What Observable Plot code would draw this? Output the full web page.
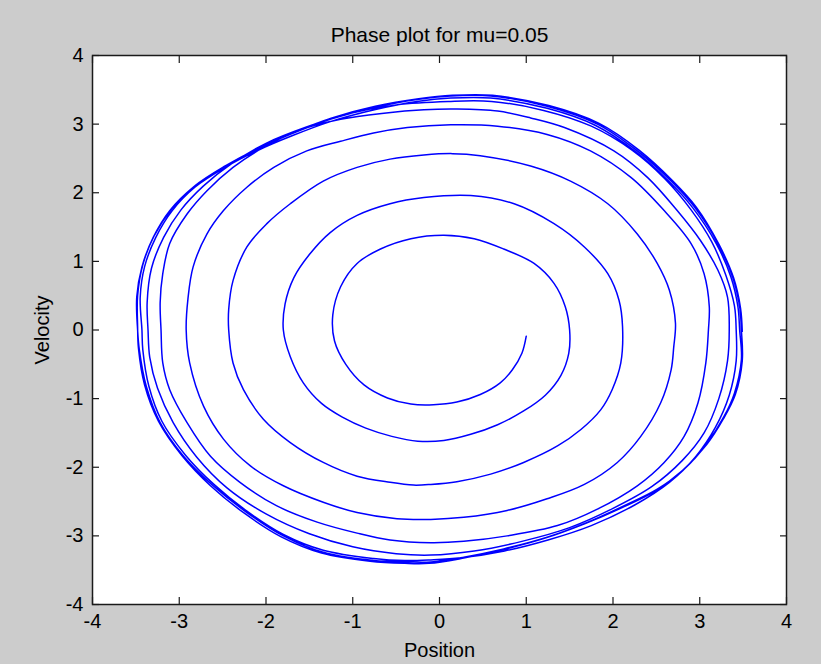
<!DOCTYPE html>
<html>
<head>
<meta charset="utf-8">
<script src="https://cdn.jsdelivr.net/npm/d3@7"></script>
<script src="https://cdn.jsdelivr.net/npm/@observablehq/plot@0.6"></script>
<style>
  html, body { margin: 0; padding: 0; background: #cccccc; }
  #chart svg { display: block; }
</style>
</head>
<body>
<div id="chart"></div>
<script>
// Trajectory of the oscillator in the phase plane, one turn per block,
// starting at (1, -0.1) and winding clockwise out to the limit cycle.
const position = [
  // turn 1
  1.00, 0.95, 0.84, 0.70, 0.47, 0.20, -0.07, -0.33, -0.60, -0.87, -1.08, -1.21,
  -1.23, -1.14, -0.95, -0.68, -0.33, 0.05, 0.40, 0.74, 1.09, 1.32, 1.45, 1.50,
  // turn 2
  1.49, 1.40, 1.22, 0.97, 0.67, 0.36, 0.05, -0.25, -0.55, -0.85, -1.12, -1.36, -1.57, -1.72, -1.80,
  -1.78, -1.68, -1.50, -1.26, -0.95, -0.57, -0.18, 0.36, 0.86, 1.32, 1.67, 1.94, 2.07, 2.11,
  // turn 3
  2.09, 1.99, 1.86, 1.63, 1.36, 0.97, 0.59, 0.20, -0.10,
  -0.30, -0.57, -0.95, -1.34, -1.72, -2.03, -2.26, -2.38, -2.43,
  -2.43, -2.38, -2.22, -1.99, -1.72, -1.34, -0.95, -0.57, -0.18,
  0.15, 0.47, 1.05, 1.51, 1.94, 2.28, 2.51, 2.65, 2.72,
  // turn 4
  2.70, 2.67, 2.55, 2.32, 2.05, 1.67, 1.24, 0.78, 0.28, -0.10,
  -0.49, -0.95, -1.34, -1.80, -2.18, -2.49, -2.72, -2.88, -2.92,
  -2.90, -2.84, -2.68, -2.49, -2.22, -1.91, -1.53, -1.14, -0.76, -0.37,
  0.13, 0.67, 1.24, 1.74, 2.21, 2.59, 2.90, 3.05, 3.11, 3.10,
  // turn 5
  3.07, 2.98, 2.82, 2.59, 2.28, 1.82, 1.36, 0.78, 0.28, -0.10,
  -0.57, -0.95, -1.41, -1.88, -2.30, -2.64, -2.91, -3.11, -3.19, -3.21,
  -3.22, -3.19, -3.11, -2.91, -2.68, -2.38, -2.03, -1.64, -1.14, -0.64, -0.18,
  0.20, 0.67, 1.05, 1.44, 2.01, 2.40, 2.74, 3.01, 3.21, 3.32, 3.34,
  // turn 6
  3.32, 3.22, 3.05, 2.80, 2.45, 2.00, 1.50, 0.95, 0.40, -0.10,
  -0.50, -1.00, -1.50, -2.00, -2.45, -2.80, -3.07, -3.25, -3.34, -3.36,
  -3.37, -3.32, -3.18, -2.98, -2.72, -2.40, -2.00, -1.55, -1.05, -0.50, 0.10,
  0.60, 1.20, 1.75, 2.22, 2.60, 2.90, 3.14, 3.30, 3.40, 3.42,
  // turn 7
  3.42, 3.34, 3.18, 2.95, 2.65, 2.25, 1.75, 1.25, 0.75, 0.25, -0.10,
  -0.40, -0.76, -1.34, -1.80, -2.22, -2.60, -2.93, -3.20, -3.35, -3.42, -3.43,
  -3.45, -3.40, -3.27, -3.08, -2.82, -2.47, -2.09, -1.70, -1.25, -0.75, -0.26, 0.13,
  0.59, 1.24, 1.80, 2.26, 2.65, 2.92, 3.19, 3.36, 3.44, 3.46,
  // turn 8
  3.48, 3.40, 3.28, 3.09, 2.82, 2.51, 2.13, 1.71, 1.24, 0.74, 0.28, -0.10,
  -0.37, -0.76, -1.34, -1.80, -2.22, -2.61, -2.95, -3.22, -3.38, -3.46, -3.48,
  -3.49, -3.43, -3.30, -3.11, -2.84, -2.49, -2.11, -1.72, -1.26, -0.76, -0.26, 0.13,
  0.59, 1.24, 1.82, 2.28, 2.67, 2.94, 3.21, 3.38, 3.46, 3.48,
  // turn 9
  3.49, 3.41, 3.27, 3.08, 2.80, 2.48, 2.10, 1.68, 1.20, 0.70, 0.25, -0.12,
  -0.40, -0.80, -1.36, -1.83, -2.25, -2.64, -2.97, -3.24, -3.40, -3.47, -3.48,
  -3.48, -3.42, -3.29, -3.09, -2.82, -2.47, -2.09, -1.70, -1.24, -0.74, -0.24, 0.15,
  0.61, 1.26, 1.84, 2.30, 2.69, 2.96, 3.22, 3.39, 3.47, 3.49
];

const velocity = [
  // turn 1
  -0.09, -0.34, -0.58, -0.77, -0.94, -1.05, -1.09, -1.08, -0.99, -0.80, -0.50, -0.16,
  0.22, 0.63, 0.97, 1.18, 1.33, 1.38, 1.33, 1.18, 0.97, 0.68, 0.34, 0.00,
  // turn 2
  -0.34, -0.66, -0.95, -1.18, -1.38, -1.52, -1.61, -1.62, -1.55, -1.43, -1.27, -1.07, -0.77, -0.39, 0.00,
  0.38, 0.76, 1.10, 1.42, 1.67, 1.84, 1.93, 1.96, 1.84, 1.55, 1.21, 0.82, 0.43, 0.05,
  // turn 3
  -0.48, -0.87, -1.16, -1.45, -1.69, -1.93, -2.10, -2.21, -2.25,
  -2.26, -2.22, -2.13, -1.93, -1.64, -1.30, -0.87, -0.48, 0.00,
  0.30, 0.72, 1.21, 1.55, 1.84, 2.17, 2.37, 2.49, 2.55,
  2.57, 2.54, 2.39, 2.17, 1.84, 1.40, 0.97, 0.58, 0.10,
  // turn 4
  -0.25, -0.58, -1.06, -1.55, -1.93, -2.25, -2.46, -2.63, -2.73, -2.76,
  -2.75, -2.66, -2.51, -2.27, -1.98, -1.59, -1.11, -0.48, 0.00,
  0.45, 0.92, 1.40, 1.74, 2.08, 2.37, 2.61, 2.75, 2.87, 2.95,
  2.99, 2.97, 2.85, 2.61, 2.22, 1.74, 1.26, 0.82, 0.34, 0.00,
  // turn 5
  -0.48, -1.06, -1.55, -1.93, -2.27, -2.61, -2.85, -3.00, -3.08, -3.10,
  -3.06, -2.96, -2.80, -2.56, -2.22, -1.84, -1.35, -0.87, -0.48, 0.00,
  0.40, 0.82, 1.26, 1.69, 2.03, 2.37, 2.66, 2.90, 3.07, 3.16, 3.21,
  3.22, 3.19, 3.09, 2.95, 2.61, 2.22, 1.74, 1.30, 0.87, 0.48, 0.00,
  // turn 6
  -0.45, -1.00, -1.50, -1.90, -2.28, -2.60, -2.88, -3.08, -3.22, -3.28,
  -3.26, -3.16, -2.97, -2.68, -2.30, -1.85, -1.35, -0.85, -0.40, 0.00,
  0.40, 0.90, 1.35, 1.75, 2.10, 2.42, 2.72, 2.95, 3.15, 3.28, 3.33,
  3.33, 3.20, 2.97, 2.62, 2.20, 1.75, 1.28, 0.80, 0.35, 0.00,
  // turn 7
  -0.45, -0.95, -1.42, -1.85, -2.22, -2.55, -2.85, -3.06, -3.22, -3.32, -3.35,
  -3.36, -3.33, -3.21, -2.98, -2.64, -2.25, -1.82, -1.33, -0.82, -0.29, 0.00,
  0.48, 0.92, 1.35, 1.74, 2.08, 2.37, 2.62, 2.83, 3.04, 3.21, 3.33, 3.38,
  3.38, 3.23, 2.98, 2.60, 2.16, 1.78, 1.26, 0.77, 0.34, 0.00,
  // turn 8
  -0.43, -0.92, -1.26, -1.64, -2.03, -2.32, -2.56, -2.80, -3.02, -3.19, -3.31, -3.38,
  -3.38, -3.36, -3.24, -3.00, -2.66, -2.27, -1.84, -1.35, -0.82, -0.29, 0.00,
  0.48, 0.92, 1.35, 1.74, 2.08, 2.37, 2.63, 2.85, 3.07, 3.24, 3.36, 3.41,
  3.41, 3.26, 3.00, 2.61, 2.17, 1.79, 1.26, 0.77, 0.34, 0.00,
  // turn 9
  -0.45, -0.94, -1.30, -1.67, -2.05, -2.35, -2.59, -2.82, -3.04, -3.21, -3.33, -3.40,
  -3.40, -3.37, -3.25, -3.01, -2.67, -2.27, -1.83, -1.33, -0.80, -0.27, 0.05,
  0.50, 0.95, 1.37, 1.76, 2.10, 2.39, 2.65, 2.87, 3.09, 3.26, 3.37, 3.42,
  3.42, 3.27, 3.01, 2.62, 2.17, 1.79, 1.25, 0.76, 0.32, -0.02
];

const xTicks = [-4, -3, -2, -1, 0, 1, 2, 3, 4];
const yTicks = [-4, -3, -2, -1, 0, 1, 2, 3, 4];
const titleText = "Phase plot for mu=0.05";
const xLabel = "Position";
const yLabel = "Velocity";

const trajectory = position.map((x, i) => ({x, y: velocity[i]}));

const font = '"Liberation Sans", Arial, Helvetica, sans-serif';
const ink = "#1a1a1a";

const chart = Plot.plot({
  width: 821,
  height: 664,
  marginLeft: 92,
  marginRight: 35,
  marginTop: 55,
  marginBottom: 60,
  style: {background: "#cccccc", fontFamily: font, fontSize: "20px", color: "#000"},
  x: {domain: [-4, 4]},
  y: {domain: [-4, 4]},
  marks: [
    Plot.frame({fill: "white", stroke: "none"}),
    Plot.line(trajectory, {x: "x", y: "y", stroke: "#0000ff", strokeWidth: 1.5, curve: "catmull-rom"}),
    // inward tick marks on all four sides of the box
    Plot.axisX(xTicks, {anchor: "bottom", tickSize: 7, dy: -7, fill: "none", label: null, stroke: ink, strokeWidth: 1.2}),
    Plot.axisX(xTicks, {anchor: "top", tickSize: 7, dy: 7, fill: "none", label: null, stroke: ink, strokeWidth: 1.2}),
    Plot.axisY(yTicks, {anchor: "left", tickSize: 7, dx: 7, fill: "none", label: null, stroke: ink, strokeWidth: 1.2}),
    Plot.axisY(yTicks, {anchor: "right", tickSize: 7, dx: -7, fill: "none", label: null, stroke: ink, strokeWidth: 1.2}),
    // tick labels and axis titles
    Plot.axisX(xTicks, {anchor: "bottom", tickSize: 0, tickPadding: 9, tickFormat: d => String(d), fill: "#000",
      label: xLabel, labelAnchor: "center", labelArrow: "none", labelOffset: 52, fontSize: 20}),
    Plot.axisY(yTicks, {anchor: "left", tickSize: 0, tickPadding: 9, tickFormat: d => String(d), fill: "#000",
      label: yLabel, labelAnchor: "center", labelArrow: "none", labelOffset: 58, fontSize: 20}),
    Plot.frame({stroke: ink, strokeWidth: 1.5}),
    Plot.text([titleText], {frameAnchor: "top", dy: -28, text: d => d, fontSize: 21, fill: "#000"})
  ]
});

document.getElementById("chart").append(chart);
</script>
</body>
</html>
